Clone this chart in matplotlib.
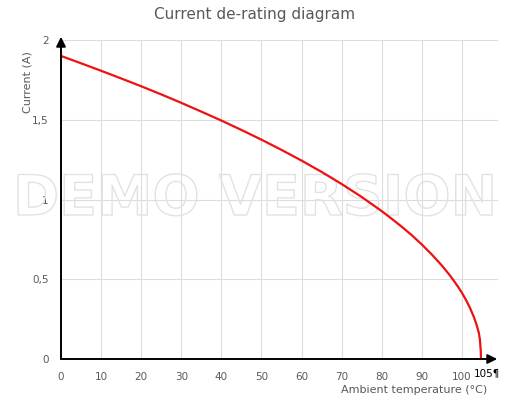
import matplotlib.pyplot as plt
import matplotlib.patheffects as pe

temperature = [0, 5, 10, 15, 20, 25, 30, 35, 40, 45, 50, 55, 60, 65, 70, 75, 80, 82.5, 85, 87.5, 90,
               92.5, 95, 97, 98, 99, 100, 101, 102, 103, 103.7, 104.2, 104.5, 104.7, 104.75]
current = [1.900, 1.854, 1.807, 1.759, 1.710, 1.659, 1.606, 1.551, 1.495, 1.436, 1.375, 1.311, 1.244,
           1.173, 1.097, 1.016, 0.927, 0.879, 0.829, 0.776, 0.718, 0.655, 0.586, 0.524, 0.490, 0.454,
           0.415, 0.371, 0.321, 0.262, 0.211, 0.166, 0.12, 0.05, 0.0]

x_ticks = [0, 10, 20, 30, 40, 50, 60, 70, 80, 90, 100]
y_ticks = [0, 0.5, 1, 1.5, 2]
y_labels = ['0', '0,5', '1', '1,5', '2']

grey = '#595959'

fig = plt.figure(figsize=(5.1, 4.0), dpi=100)
ax = fig.add_axes([61 / 510, 1 - 359 / 400, 437 / 510, 319 / 400])

ax.set_xlim(0, 109)
ax.set_ylim(0, 2)
ax.set_xticks(x_ticks)
ax.set_xticklabels([str(t) for t in x_ticks], color=grey, fontsize=7.5)
ax.set_yticks(y_ticks)
ax.set_yticklabels(y_labels, color=grey, fontsize=7.5)
ax.tick_params(length=0, pad=9)
ax.grid(color='#dcdcdc', linewidth=0.8)
ax.set_axisbelow(True)
for s in ax.spines.values():
    s.set_visible(False)

ax.text(102.9, -0.09, '105¶', ha='left', va='center', fontsize=7.5, color='black')

# watermark, outline only
ax.text(0.5, 0.5, 'DEMO VERSION', transform=fig.transFigure, ha='center', va='center',
        fontsize=40, fontweight='bold', color='none', zorder=1,
        path_effects=[pe.Stroke(linewidth=1.0, foreground='#e2e2e2')])

ax.plot(temperature, current, color='#ee1111', linewidth=1.6, zorder=4)

# axis arrows
ax.annotate('', xy=(108.8, 0), xytext=(0, 0), annotation_clip=False,
            arrowprops=dict(arrowstyle='-|>', color='black', lw=1.4, mutation_scale=14, shrinkA=0, shrinkB=0), zorder=5)
ax.annotate('', xy=(0, 2.02), xytext=(0, 0), annotation_clip=False,
            arrowprops=dict(arrowstyle='-|>', color='black', lw=1.4, mutation_scale=14, shrinkA=0, shrinkB=0), zorder=5)

fig.text(0.5, 1 - 14 / 400, 'Current de-rating diagram', ha='center', va='center', fontsize=11, color=grey)
fig.text(487 / 510, 1 - 390 / 400, 'Ambient temperature (°C)', ha='right', va='center', fontsize=8, color=grey)
fig.text(28 / 510, 1 - 82 / 400, 'Current (A)', ha='center', va='center', rotation=90, fontsize=8, color=grey)

fig.savefig('out.png', dpi=100)
